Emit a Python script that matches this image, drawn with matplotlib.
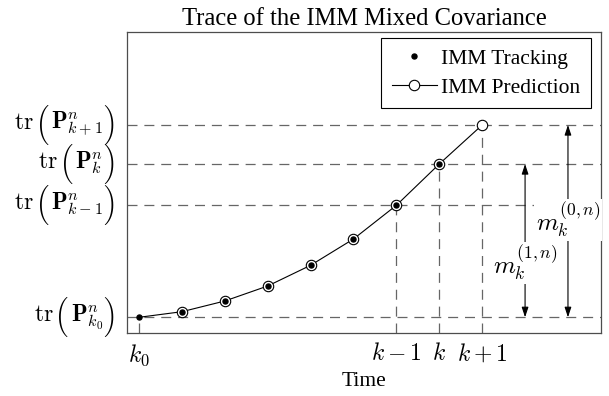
import os
import matplotlib
matplotlib.use("Agg")
import matplotlib.pyplot as plt
from matplotlib.font_manager import FontProperties
import numpy as np

plt.rcParams['font.family'] = ['Liberation Serif', 'DejaVu Serif']
plt.rcParams['mathtext.fontset'] = 'cm'

# trace values (arbitrary units)
steps = np.arange(9)
trace = [15.7, 21.3, 32.0, 47.0, 67.7, 94.0, 127.7, 169.0, 208.0]

# which steps are marked / labelled
track_idx = list(range(8))       # filled dots: k0 ... k
pred_idx = list(range(1, 9))     # open circles: k0+1 ... k+1
ref_idx = [0, 6, 7, 8]           # k0, k-1, k, k+1
xtick_labels = [r'$k_0$', r'$k-1$', r'$k$', r'$k+1$']
ytick_terms = [r'$\mathbf{P}_{k_0}^{n}$', r'$\mathbf{P}_{k-1}^{n}$',
               r'$\mathbf{P}_{k}^{n}$', r'$\mathbf{P}_{k+1}^{n}$']

fig = plt.figure(figsize=(6.09, 3.96), dpi=100)
ax = fig.add_axes([127/609, 1-333/396, (601-127)/609, (333-32)/396])

ax.set_xlim(-0.28, 10.77)
ax.set_ylim(0, 301)

dash = dict(color='0.4', lw=0.9, ls=(0, (8, 5.5)), zorder=1)
for i in ref_idx:
    ax.axhline(trace[i], **dash)
    ax.plot([steps[i], steps[i]], [0, trace[i]], **dash)

ax.plot(steps, trace, color='k', lw=0.8, zorder=2)
ax.plot(steps[pred_idx], np.array(trace)[pred_idx], ls='none', marker='o',
        ms=7.5, mfc='white', mec='k', mew=0.8, zorder=3)
ax.plot(steps[track_idx], np.array(trace)[track_idx], ls='none', marker='o',
        ms=3.6, color='k', zorder=4)

# legend proxies
h1, = ax.plot([], [], ls='none', marker='o', ms=3.6, color='k')
h2, = ax.plot([], [], color='k', lw=0.8, marker='o', ms=7.5, mfc='white',
              mec='k', mew=0.8)
leg = ax.legend([h1, h2], ['IMM Tracking', 'IMM Prediction'], loc='upper right',
                bbox_to_anchor=(0.979, 0.980), borderaxespad=0,
                fontsize=15.5, fancybox=False, edgecolor='k', framealpha=1,
                handlelength=2.1, labelspacing=0.4, handletextpad=0.2,
                borderpad=0.5)
leg.get_frame().set_linewidth(0.8)

# difference arrows
arrow = dict(arrowstyle='<|-|>,head_length=0.6,head_width=0.2', color='k',
             lw=0.8, shrinkA=0, shrinkB=0)
ax.annotate('', xy=(9, trace[7]), xytext=(9, trace[0]), arrowprops=arrow)
ax.annotate('', xy=(10, trace[8]), xytext=(10, trace[0]), arrowprops=arrow)
box = dict(facecolor='white', edgecolor='none', pad=1)
ax.text(9, 70, r'$m_k^{(1,n)}$', fontsize=18, ha='center', va='center', bbox=box)
ax.text(10, 113, r'$m_k^{(0,n)}$', fontsize=18, ha='center', va='center', bbox=box)

ax.set_xticks(steps[ref_idx])
ax.set_xticklabels(xtick_labels, fontsize=17)
ax.set_yticks(np.array(trace)[ref_idx])
ax.set_yticklabels([])
ax.tick_params(length=0, pad=7)

for s in ax.spines.values():
    s.set_linewidth(0.9)
    s.set_color('0.3')

ax.set_xlabel('Time', fontsize=15.5, labelpad=3)
ax.set_title('Trace of the IMM Mixed Covariance', fontsize=17.7, pad=5)

# y labels: tr( P ) with large TeX parentheses, built right to left
cmex = FontProperties(fname=os.path.join(matplotlib.get_data_path(),
                                         'fonts', 'ttf', 'cmex10.ttf'), size=16)
renderer = fig.canvas.get_renderer()
trans = ('axes fraction', 'data')


def put(s, y, x, dy, **kw):
    t = ax.annotate(s, xy=(0, y), xycoords=trans, xytext=(x, dy),
                    textcoords='offset pixels', ha='right', annotation_clip=False,
                    **kw)
    return t.get_window_extent(renderer).width


for i, term in zip(ref_idx, ytick_terms):
    y = trace[i]
    x = -11
    x -= put('\xb4', y, x, 0, va='center', fontproperties=cmex)
    x -= put(term, y, x, -4, va='baseline', fontsize=16.5) + 2
    x -= put('\xb3', y, x, 0, va='center', fontproperties=cmex) + 2
    put(r'$\mathrm{tr}$', y, x, -4, va='baseline', fontsize=17)

fig.savefig('out.png', dpi=100)
